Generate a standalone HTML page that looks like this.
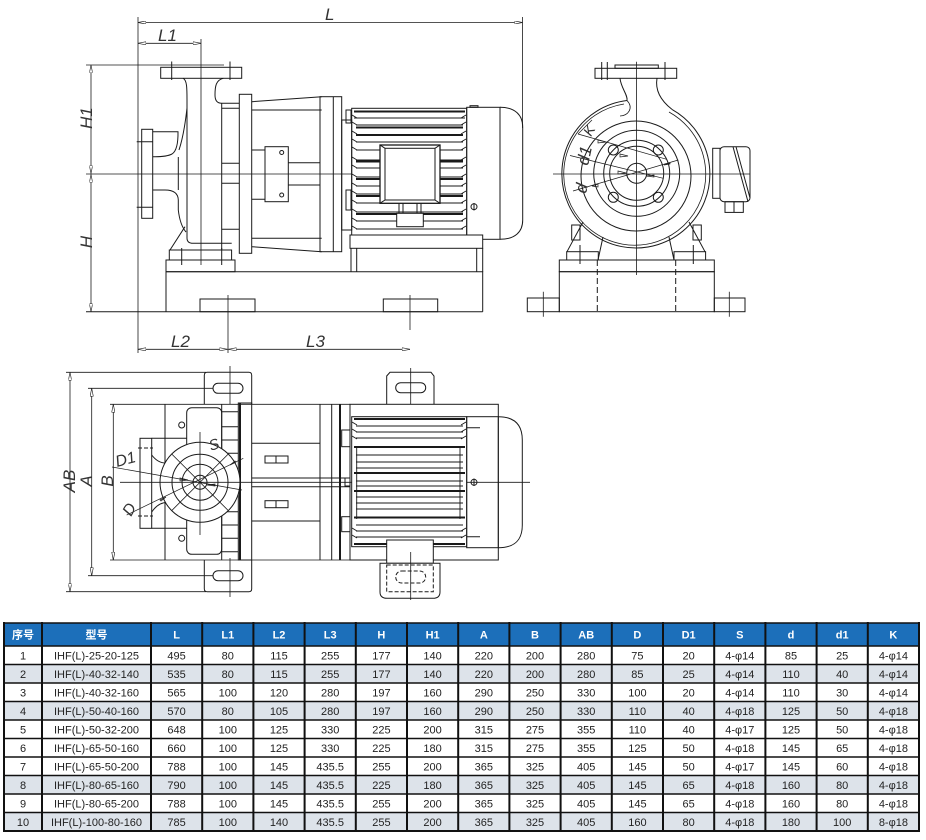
<!DOCTYPE html>
<html><head><meta charset="utf-8"><style>
html,body{margin:0;padding:0;background:#fff;width:926px;height:840px;overflow:hidden}
svg{display:block}
</style></head><body>
<svg width="926" height="840" viewBox="0 0 926 840" xmlns="http://www.w3.org/2000/svg">
<defs>
<marker id="a" viewBox="0 0 10 4" refX="10" refY="2" markerWidth="8" markerHeight="3.2" orient="auto-start-reverse" markerUnits="userSpaceOnUse"><path d="M0,0 L10,2 L0,4 Z" fill="#fff" stroke="#222" stroke-width="0.8"/></marker>
</defs>
<rect width="926" height="840" fill="#fff"/>

<!-- ================= FRONT VIEW ================= -->
<g fill="none" stroke="#1a1a1a" stroke-width="1">
<line x1="138" y1="22.5" x2="522.5" y2="22.5" marker-start="url(#a)" marker-end="url(#a)" stroke-width="0.8"/>
<line x1="138" y1="17" x2="138" y2="353" stroke-width="0.8"/>
<line x1="522.5" y1="17" x2="522.5" y2="128" stroke-width="0.8"/>
<line x1="138" y1="43.3" x2="201" y2="43.3" marker-start="url(#a)" marker-end="url(#a)" stroke-width="0.8"/>
<line x1="201" y1="39" x2="201" y2="265" stroke-width="0.8"/>
<line x1="86" y1="65" x2="224" y2="65" stroke-width="0.8"/>
<line x1="91" y1="65" x2="91" y2="173.5" marker-start="url(#a)" marker-end="url(#a)" stroke-width="0.8"/>
<line x1="91" y1="174.5" x2="91" y2="311.7" marker-start="url(#a)" marker-end="url(#a)" stroke-width="0.8"/>
<line x1="86" y1="174" x2="352" y2="174" stroke-width="0.8"/>
<line x1="86" y1="311.7" x2="482.7" y2="311.7"/>
<line x1="138" y1="349.3" x2="227.5" y2="349.3" marker-start="url(#a)" marker-end="url(#a)" stroke-width="0.8"/>
<line x1="228.5" y1="349.3" x2="410" y2="349.3" marker-start="url(#a)" marker-end="url(#a)" stroke-width="0.8"/>
<line x1="228" y1="295" x2="228" y2="353" stroke-width="0.8"/>
<line x1="410" y1="295" x2="410" y2="330" stroke-width="0.8"/>

<rect x="160.7" y="67.3" width="81" height="11"/>
<line x1="171.7" y1="61.5" x2="171.7" y2="80"/>
<line x1="230" y1="61.5" x2="230" y2="80"/>
<path d="M183,78.3 C187,80 187,88 187,100 L187,238 Q187,243.3 193,243.3 L231.7,243.3"/>
<path d="M223.3,78.3 C216,80 215,86 215,95 Q215,103.3 221.7,103.3 L239.3,103.3"/>
<rect x="141.7" y="129.3" width="11" height="89"/>
<line x1="136.7" y1="141.7" x2="153" y2="141.7"/>
<line x1="136.7" y1="207.3" x2="153" y2="207.3"/>
<path d="M152.7,131.7 L178,131.7 Q178.3,150 172,154 Q167,156.7 155,156.7 L152.7,156.7"/>
<path d="M187,108 Q184,135 179,150"/>
<path d="M152.7,190 L165,190 Q178,190 178.3,200 L178.3,210 Q180,225 186,232"/>
<line x1="178.3" y1="157" x2="178.3" y2="190"/>
<line x1="185" y1="226.7" x2="170" y2="250"/>
<rect x="169.3" y="250" width="62.3" height="10"/>
<rect x="166" y="260" width="69" height="11.7"/>
<line x1="181.7" y1="248" x2="181.7" y2="265"/>
<line x1="221.7" y1="248" x2="221.7" y2="265"/>
<line x1="221.7" y1="103.3" x2="221.7" y2="250"/>
<path d="M221.7,108.3 H239.3 M221.7,163.3 H239.3 M221.7,183.3 H239.3 M221.7,229.3 H239.3"/>
<rect x="239.3" y="94.3" width="12.4" height="159"/>
<path d="M251.7,101.7 L321.7,96.7 M251.7,110 L321.7,110 M251.7,246.7 L321.7,251.7 M251.7,238.3 L321.7,238.3"/>
<rect x="320" y="96.7" width="21.7" height="155"/>
<line x1="333.3" y1="96.7" x2="333.3" y2="251.7"/>
<rect x="265" y="146.7" width="23.3" height="55"/>
<circle cx="281.7" cy="152.5" r="2"/>
<circle cx="281.7" cy="195" r="2"/>
<path d="M251.7,150 H265 M251.7,199.3 H265 M288.3,162.7 H320 M288.3,185 H320"/>

<!-- motor front -->
<rect x="341.7" y="120" width="10" height="110"/>
<rect x="346" y="110" width="5" height="13"/>
<rect x="346" y="190" width="5" height="20"/>
<rect x="351.7" y="108.3" width="115" height="130"/>
<g stroke-width="1.1">
<path d="M354,118 H465 M356,125 H463 M356,142 H463 M356,150 H463 M356,160 H463 M356,168 H463 M356,177 H463 M356,186 H463 M356,194 H463 M356,203 H463 M356,212 H463 M356,221 H463 M356,229 H463"/>
</g>
<g stroke-width="2">
<path d="M354,111.5 H465 M356,127.5 H463 M356,135 H463 M356,161.5 H463 M356,179 H463 M356,196 H463 M356,214 H463 M354,235.5 H465"/>
</g>
<g stroke-width="0.9">
<path d="M352,115 l5,3 M352,122 l5,3 M352,131 l5,3 M352,139 l5,3 M352,147 l5,3 M352,157 l5,3 M352,165 l5,3 M352,174 l5,3 M352,183 l5,3 M352,191 l5,3 M352,200 l5,3 M352,209 l5,3 M352,218 l5,3 M352,226 l5,3"/>
<path d="M466,115 l-5,3 M466,122 l-5,3 M466,131 l-5,3 M466,139 l-5,3 M466,147 l-5,3 M466,157 l-5,3 M466,165 l-5,3 M466,174 l-5,3 M466,183 l-5,3 M466,191 l-5,3 M466,200 l-5,3 M466,209 l-5,3 M466,218 l-5,3 M466,226 l-5,3"/>
</g>
<rect x="380" y="145" width="60" height="58.3" fill="#fff" stroke-width="1.3"/>
<rect x="385" y="148.3" width="50" height="51.7"/>
<path d="M380,145 L385,148.3 M440,145 L435,148.3 M380,203.3 L385,200 M440,203.3 L435,200"/>
<path d="M399,203.3 V213.3 M403,203.3 V213.3 M417,203.3 V213.3 M421,203.3 V213.3"/>
<rect x="396.7" y="213.3" width="26.6" height="13.4" fill="#fff"/>
<rect x="466.7" y="107.3" width="33.3" height="132"/>
<rect x="470" y="105.7" width="8" height="1.6"/>
<path d="M500,107.3 C515,107.3 522.7,115 522.7,127 L522.7,220 C522.7,232 515,239.3 500,239.3"/>
<circle cx="474" cy="206.7" r="3"/>
<line x1="474" y1="203" x2="474" y2="210.5"/>
<rect x="350" y="235" width="132.7" height="13.3" fill="#fff"/>
<path d="M351,248.3 V271.7 M356.7,248.3 V271.7 M476.7,248.3 V271.7 M482.7,248.3 V271.7"/>
<polyline points="166,271.7 482.7,271.7 482.7,311.7"/>
<line x1="166" y1="271.7" x2="166" y2="311.7"/>
<rect x="200" y="299" width="55" height="12.7"/>
<rect x="383.3" y="299" width="54.4" height="12.7"/>
</g>

<!-- ================= RIGHT VIEW ================= -->
<g fill="none" stroke="#1a1a1a" stroke-width="1">
<rect x="595" y="68.3" width="81.7" height="10"/>
<rect x="615" y="65" width="43.3" height="3.3"/>
<path d="M601.7,62 V80 M607.3,62 V80 M665,62 V80"/>
<path d="M620,78.3 C621,88 628,95 627,100.5"/>
<path d="M657,78.3 C655,90 660,100 672,109.4"/>
<path d="M627,100.5 A74 74 0 1 0 672,109.4"/>
<path d="M624,104 A71 71 0 1 0 669,112" stroke-width="0.8"/>
<path d="M627,100.5 C634,108 628,116 620,116" stroke-width="0.8"/>
<circle cx="636" cy="176" r="55"/>
<circle cx="636.7" cy="173.3" r="43"/>
<circle cx="636.7" cy="173.3" r="33"/>
<circle cx="636.7" cy="173.3" r="27"/>
<circle cx="636.7" cy="173.3" r="10"/>
<circle cx="613.3" cy="150" r="5"/>
<circle cx="658.3" cy="150" r="5"/>
<circle cx="613.3" cy="197.3" r="5"/>
<circle cx="658.3" cy="197.3" r="5"/>
<line x1="636.5" y1="61.7" x2="636.5" y2="275" stroke-width="0.8"/>
<line x1="553" y1="174" x2="750" y2="174" stroke-width="0.8"/>
<g stroke-width="0.7">
<line x1="578" y1="134" x2="666.7" y2="159.3"/>
<line x1="570" y1="155.5" x2="663.3" y2="178.3"/>
<line x1="573" y1="191" x2="678.3" y2="160"/>
<line x1="578" y1="134" x2="592" y2="120"/>
<path d="M598,140 l8,2 l-8,1z M620,154 l8,2 l-8,1z M618,171 l8,2 l-8,1z M654,177 l-8,-1 l8,-1z M598,184 l-6,2 l6,1z M670,163 l-6,2 l6,-1z"/>
</g>
<path d="M583,222 L567,251.7 M603,237 L598,260 M689,222 L705,251.7 M669,237 L674,260"/>
<rect x="571.7" y="225" width="8.3" height="15"/>
<rect x="693" y="225" width="8.3" height="15"/>
<rect x="566.7" y="251.7" width="31.6" height="8.3"/>
<rect x="674" y="251.7" width="31.6" height="8.3"/>
<path d="M580,245 V264 M693.3,245 V264"/>
<rect x="559.3" y="260" width="155" height="11.7"/>
<rect x="559.3" y="271.7" width="155" height="40"/>
<path d="M597.3,260 V311.7 M675.7,260 V311.7" stroke-dasharray="6 3"/>
<rect x="527.3" y="298" width="32" height="13.7"/>
<rect x="714.3" y="298" width="30.7" height="13.7"/>
<path d="M543.3,291.7 V316.7 M729.3,291.7 V316.7" stroke-width="0.8"/>
<rect x="712.7" y="148.3" width="7.3" height="50"/>
<rect x="720" y="146.7" width="30" height="55" rx="4"/>
<path d="M733,146.7 L748,201.7 M736,146.7 L750,198"/>
<rect x="725" y="201.7" width="18.3" height="10.7"/>
<line x1="734" y1="201.7" x2="734" y2="212.4"/>
</g>

<!-- ================= TOP VIEW ================= -->
<g fill="none" stroke="#1a1a1a" stroke-width="1">
<line x1="70" y1="372.3" x2="70" y2="591.7" marker-start="url(#a)" marker-end="url(#a)" stroke-width="0.8"/>
<line x1="91.7" y1="388.3" x2="91.7" y2="575.7" marker-start="url(#a)" marker-end="url(#a)" stroke-width="0.8"/>
<line x1="113.3" y1="404.3" x2="113.3" y2="560" marker-start="url(#a)" marker-end="url(#a)" stroke-width="0.8"/>
<path d="M66,372.3 H206 M88,388.3 H213 M110,404.3 H350 M110,560 H350 M88,575.7 H213 M66,591.7 H206" stroke-width="0.8"/>
<path d="M204.3,404.3 V375.3 Q204.3,372.3 207.3,372.3 H248.7 Q251.7,372.3 251.7,375.3 V404.3"/>
<path d="M204.3,560 V588.7 Q204.3,591.7 207.3,591.7 H248.7 Q251.7,591.7 251.7,588.7 V560"/>
<rect x="213" y="383.3" width="30" height="10" rx="5"/>
<rect x="213" y="570.7" width="30" height="10" rx="5"/>
<path d="M230,366 V404 M230,558 V597" stroke-width="0.8"/>
<line x1="165" y1="404.3" x2="165" y2="560"/>
<rect x="186.7" y="407.7" width="35" height="146.6" rx="5"/>
<circle cx="181.7" cy="425" r="3"/>
<circle cx="181.7" cy="538.3" r="3"/>
<line x1="221.7" y1="404.3" x2="221.7" y2="560"/>
<path d="M221.7,411.7 H238.3 M221.7,426.7 H238.3 M221.7,440 H238.3 M221.7,453.3 H238.3 M221.7,511.7 H238.3 M221.7,525 H238.3 M221.7,538.3 H238.3 M221.7,551.7 H238.3"/>
<rect x="238.3" y="403" width="13.4" height="157"/>
<line x1="240" y1="403" x2="240" y2="560" stroke-width="2"/>
<rect x="140" y="438.3" width="11.7" height="90"/>
<path d="M151.7,438.3 H186.7 M151.7,528.3 H186.7"/>
<path d="M138,448 H153 M138,516 H153" stroke-dasharray="4 2"/>
<path d="M151.7,455 Q160,466 172,462 M151.7,512 Q160,500 172,503"/>
<circle cx="200" cy="482.3" r="40" fill="#fff"/>
<circle cx="200" cy="482.3" r="28"/>
<circle cx="200" cy="482.3" r="18"/>
<circle cx="200" cy="482.3" r="7"/>
<path d="M171.7,454 L228.3,510.6 M228.3,454 L171.7,510.6" stroke-width="0.8"/>
<line x1="200" y1="432" x2="200" y2="535" stroke-width="0.8"/>
<line x1="120" y1="482.3" x2="530" y2="482.3" stroke-width="0.8"/>
<g stroke-width="0.7">
<line x1="112" y1="467" x2="242" y2="490"/>
<line x1="126.7" y1="515" x2="243.3" y2="458.3"/>
<path d="M180,478 l8,2 l-8,1z M215,486 l-8,-1 l8,-1z M160,500 l6,-3 l-5,4z M236,462 l-6,3 l5,-4z"/>
</g>
<path d="M251.7,443.3 H320 M251.7,521 H320 M251.7,478 H350 M251.7,486.7 H350"/>
<rect x="265" y="456" width="23" height="7"/>
<rect x="265" y="500.7" width="23" height="7"/>
<path d="M276,456 V463 M276,500.7 V507.7"/>
<path d="M320,404.3 V560 M331.7,404.3 V560"/>
<line x1="340" y1="404.3" x2="340" y2="560" stroke-width="2"/>
<path d="M386.7,404.3 V376 L390,372.3 H431 L434,376 V404.3"/>
<rect x="395.7" y="382.7" width="30" height="10" rx="5"/>
<line x1="410.7" y1="368" x2="410.7" y2="404" stroke-width="0.8"/>
<rect x="350" y="404.3" width="148.3" height="155.7"/>
<rect x="341.7" y="430" width="8.3" height="16.7"/>
<rect x="341.7" y="516.7" width="8.3" height="15"/>
<rect x="345" y="478" width="5" height="8"/>
<rect x="351.7" y="416.7" width="115" height="130" fill="#fff"/>
<g stroke-width="1.1">
<path d="M356,426 H463 M356,432 H463 M356,438 H463 M356,455 H463 M356,462 H463 M356,468 H463 M356,481 H463 M356,486 H463 M356,497 H463 M356,503 H463 M356,509 H463 M356,525 H463 M356,531 H463 M356,537 H463"/>
</g>
<g stroke-width="2">
<path d="M354,419 H465 M354,447 H465 M354,473 H465 M354,491 H465 M354,517.5 H465 M354,544 H465"/>
</g>
<g stroke-width="0.9">
<path d="M356.7,447 V519 M460,447 V519"/>
<path d="M352,422 l5,3 M352,429 l5,3 M352,436 l5,3 M352,528 l5,3 M352,535 l5,3 M466,422 l-5,3 M466,429 l-5,3 M466,436 l-5,3 M466,528 l-5,3 M466,535 l-5,3"/>
</g>
<rect x="466.7" y="416.7" width="31.6" height="131"/>
<path d="M466.7,427.7 H480 M466.7,536.7 H480"/>
<path d="M498.3,416.7 C515,416.7 522.3,425 522.3,440 L522.3,525 C522.3,540 515,547.7 498.3,547.7"/>
<circle cx="474" cy="482.3" r="3"/>
<line x1="474" y1="478.5" x2="474" y2="486"/>
<rect x="386.7" y="540" width="46.6" height="23.3" fill="#fff"/>
<path d="M380,563.3 H440 V592 Q440,598.3 433,598.3 H387 Q380,598.3 380,592 Z" fill="#fff"/>
<rect x="386.7" y="565" width="46.6" height="26.7" stroke-dasharray="4 2"/>
<rect x="395.7" y="571" width="30" height="12" rx="6" stroke-dasharray="4 2"/>
<line x1="410.7" y1="552" x2="410.7" y2="600" stroke-width="0.8"/>
</g>

<!-- ================= LABELS ================= -->
<g font-family="Liberation Sans, DejaVu Sans, sans-serif" font-style="italic" font-size="17" fill="#333">
<text x="325" y="20">L</text>
<text x="158" y="41">L1</text>
<text transform="translate(92,118) rotate(-90)" text-anchor="middle">H1</text>
<text transform="translate(92,242) rotate(-90)" text-anchor="middle">H</text>
<text x="171" y="347">L2</text>
<text x="306" y="347">L3</text>
<text transform="translate(75,481) rotate(-90)" text-anchor="middle">AB</text>
<text transform="translate(92,481) rotate(-90)" text-anchor="middle">A</text>
<text transform="translate(113,481) rotate(-90)" text-anchor="middle">B</text>
<text transform="translate(117,467) rotate(-15)" font-size="16">D1</text>
<text transform="translate(131,517) rotate(-60)" font-size="16">D</text>
<text transform="translate(211,451) rotate(-20)" font-size="15">S</text>
<text transform="translate(591,137) rotate(-60)" font-size="14">K</text>
<text transform="translate(588,166) rotate(-78)" font-size="17">d1</text>
<text transform="translate(586,194) rotate(-78)" font-size="17">d</text>
</g>

<!-- ================= TABLE ================= -->
<rect x="4" y="623" width="915" height="23" fill="#1c6fba"/>
<g fill="#dde3ea">
<rect x="4" y="664.5" width="915" height="18.5"/>
<rect x="4" y="701.5" width="915" height="18.5"/>
<rect x="4" y="775.5" width="915" height="18.5"/>
<rect x="4" y="812.5" width="915" height="18.5"/>
</g>
<g stroke="#111" stroke-width="1.5">
<path d="M4,623 H919 M4,646 H919 M4,664.5 H919 M4,683 H919 M4,701.5 H919 M4,720 H919 M4,738.5 H919 M4,757 H919 M4,775.5 H919 M4,794 H919 M4,812.5 H919"/>
<path d="M4,831 H919" stroke-width="2"/>
</g>
<g stroke="#111" stroke-width="2">
<path d="M4,622 V832 M42,622 V832 M151,622 V832 M202.2,622 V832 M253.4,622 V832 M304.6,622 V832 M355.8,622 V832 M407,622 V832 M458.2,622 V832 M509.4,622 V832 M560.6,622 V832 M611.8,622 V832 M663,622 V832 M714.2,622 V832 M765.4,622 V832 M816.6,622 V832 M867.8,622 V832 M919,622 V832"/>
</g>
<g font-family="Liberation Sans, Noto Sans CJK SC, sans-serif" font-size="11" text-anchor="middle">
<text y="638.5" fill="#fff" font-weight="bold"><tspan x="23">序号</tspan><tspan x="96.5">型号</tspan><tspan x="176.6">L</tspan><tspan x="227.8">L1</tspan><tspan x="279">L2</tspan><tspan x="330.2">L3</tspan><tspan x="381.4">H</tspan><tspan x="432.6">H1</tspan><tspan x="483.8">A</tspan><tspan x="535">B</tspan><tspan x="586.2">AB</tspan><tspan x="637.4">D</tspan><tspan x="688.6">D1</tspan><tspan x="739.8">S</tspan><tspan x="791">d</tspan><tspan x="842.2">d1</tspan><tspan x="893.4">K</tspan></text>
<g fill="#222">
<text y="659.5"><tspan x="23">1</tspan><tspan x="96.5">IHF(L)-25-20-125</tspan><tspan x="176.6">495</tspan><tspan x="227.8">80</tspan><tspan x="279">115</tspan><tspan x="330.2">255</tspan><tspan x="381.4">177</tspan><tspan x="432.6">140</tspan><tspan x="483.8">220</tspan><tspan x="535">200</tspan><tspan x="586.2">280</tspan><tspan x="637.4">75</tspan><tspan x="688.6">20</tspan><tspan x="739.8">4-φ14</tspan><tspan x="791">85</tspan><tspan x="842.2">25</tspan><tspan x="893.4">4-φ14</tspan></text>
<text y="678"><tspan x="23">2</tspan><tspan x="96.5">IHF(L)-40-32-140</tspan><tspan x="176.6">535</tspan><tspan x="227.8">80</tspan><tspan x="279">115</tspan><tspan x="330.2">255</tspan><tspan x="381.4">177</tspan><tspan x="432.6">140</tspan><tspan x="483.8">220</tspan><tspan x="535">200</tspan><tspan x="586.2">280</tspan><tspan x="637.4">85</tspan><tspan x="688.6">25</tspan><tspan x="739.8">4-φ14</tspan><tspan x="791">110</tspan><tspan x="842.2">40</tspan><tspan x="893.4">4-φ14</tspan></text>
<text y="696.5"><tspan x="23">3</tspan><tspan x="96.5">IHF(L)-40-32-160</tspan><tspan x="176.6">565</tspan><tspan x="227.8">100</tspan><tspan x="279">120</tspan><tspan x="330.2">280</tspan><tspan x="381.4">197</tspan><tspan x="432.6">160</tspan><tspan x="483.8">290</tspan><tspan x="535">250</tspan><tspan x="586.2">330</tspan><tspan x="637.4">100</tspan><tspan x="688.6">20</tspan><tspan x="739.8">4-φ14</tspan><tspan x="791">110</tspan><tspan x="842.2">30</tspan><tspan x="893.4">4-φ14</tspan></text>
<text y="715"><tspan x="23">4</tspan><tspan x="96.5">IHF(L)-50-40-160</tspan><tspan x="176.6">570</tspan><tspan x="227.8">80</tspan><tspan x="279">105</tspan><tspan x="330.2">280</tspan><tspan x="381.4">197</tspan><tspan x="432.6">160</tspan><tspan x="483.8">290</tspan><tspan x="535">250</tspan><tspan x="586.2">330</tspan><tspan x="637.4">110</tspan><tspan x="688.6">40</tspan><tspan x="739.8">4-φ18</tspan><tspan x="791">125</tspan><tspan x="842.2">50</tspan><tspan x="893.4">4-φ18</tspan></text>
<text y="733.5"><tspan x="23">5</tspan><tspan x="96.5">IHF(L)-50-32-200</tspan><tspan x="176.6">648</tspan><tspan x="227.8">100</tspan><tspan x="279">125</tspan><tspan x="330.2">330</tspan><tspan x="381.4">225</tspan><tspan x="432.6">200</tspan><tspan x="483.8">315</tspan><tspan x="535">275</tspan><tspan x="586.2">355</tspan><tspan x="637.4">110</tspan><tspan x="688.6">40</tspan><tspan x="739.8">4-φ17</tspan><tspan x="791">125</tspan><tspan x="842.2">50</tspan><tspan x="893.4">4-φ18</tspan></text>
<text y="752"><tspan x="23">6</tspan><tspan x="96.5">IHF(L)-65-50-160</tspan><tspan x="176.6">660</tspan><tspan x="227.8">100</tspan><tspan x="279">125</tspan><tspan x="330.2">330</tspan><tspan x="381.4">225</tspan><tspan x="432.6">180</tspan><tspan x="483.8">315</tspan><tspan x="535">275</tspan><tspan x="586.2">355</tspan><tspan x="637.4">125</tspan><tspan x="688.6">50</tspan><tspan x="739.8">4-φ18</tspan><tspan x="791">145</tspan><tspan x="842.2">65</tspan><tspan x="893.4">4-φ18</tspan></text>
<text y="770.5"><tspan x="23">7</tspan><tspan x="96.5">IHF(L)-65-50-200</tspan><tspan x="176.6">788</tspan><tspan x="227.8">100</tspan><tspan x="279">145</tspan><tspan x="330.2">435.5</tspan><tspan x="381.4">255</tspan><tspan x="432.6">200</tspan><tspan x="483.8">365</tspan><tspan x="535">325</tspan><tspan x="586.2">405</tspan><tspan x="637.4">145</tspan><tspan x="688.6">50</tspan><tspan x="739.8">4-φ17</tspan><tspan x="791">145</tspan><tspan x="842.2">60</tspan><tspan x="893.4">4-φ18</tspan></text>
<text y="789"><tspan x="23">8</tspan><tspan x="96.5">IHF(L)-80-65-160</tspan><tspan x="176.6">790</tspan><tspan x="227.8">100</tspan><tspan x="279">145</tspan><tspan x="330.2">435.5</tspan><tspan x="381.4">225</tspan><tspan x="432.6">180</tspan><tspan x="483.8">365</tspan><tspan x="535">325</tspan><tspan x="586.2">405</tspan><tspan x="637.4">145</tspan><tspan x="688.6">65</tspan><tspan x="739.8">4-φ18</tspan><tspan x="791">160</tspan><tspan x="842.2">80</tspan><tspan x="893.4">4-φ18</tspan></text>
<text y="807.5"><tspan x="23">9</tspan><tspan x="96.5">IHF(L)-80-65-200</tspan><tspan x="176.6">788</tspan><tspan x="227.8">100</tspan><tspan x="279">145</tspan><tspan x="330.2">435.5</tspan><tspan x="381.4">255</tspan><tspan x="432.6">200</tspan><tspan x="483.8">365</tspan><tspan x="535">325</tspan><tspan x="586.2">405</tspan><tspan x="637.4">145</tspan><tspan x="688.6">65</tspan><tspan x="739.8">4-φ18</tspan><tspan x="791">160</tspan><tspan x="842.2">80</tspan><tspan x="893.4">4-φ18</tspan></text>
<text y="826"><tspan x="23">10</tspan><tspan x="96.5">IHF(L)-100-80-160</tspan><tspan x="176.6">785</tspan><tspan x="227.8">100</tspan><tspan x="279">140</tspan><tspan x="330.2">435.5</tspan><tspan x="381.4">255</tspan><tspan x="432.6">200</tspan><tspan x="483.8">365</tspan><tspan x="535">325</tspan><tspan x="586.2">405</tspan><tspan x="637.4">160</tspan><tspan x="688.6">80</tspan><tspan x="739.8">4-φ18</tspan><tspan x="791">180</tspan><tspan x="842.2">100</tspan><tspan x="893.4">8-φ18</tspan></text>
</g>
</g>
</svg>
</body></html>
